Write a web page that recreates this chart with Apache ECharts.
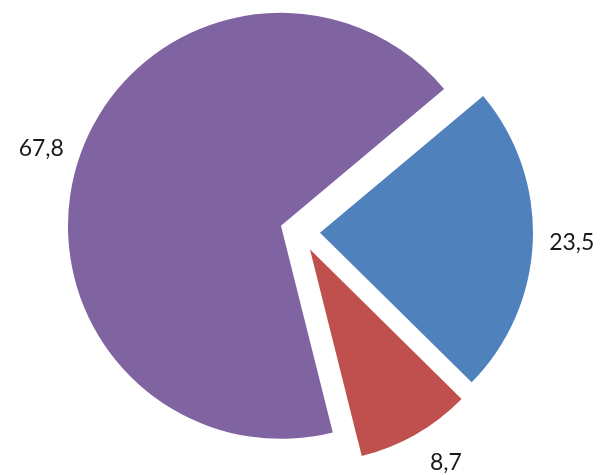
<!DOCTYPE html>
<html>
<head>
<meta charset="utf-8">
<script src="https://cdn.jsdelivr.net/npm/echarts@6/dist/echarts.min.js"></script>
<style>
    html, body { margin: 0; padding: 0; background: #fff; }
    #chart { width: 604px; height: 475px; }
</style>
</head>
<body>
<div id="chart"></div>
<script>
    // 数据
    var names = ['A', 'B', 'C'];
    var values = [23.5, 8.7, 67.8];
    var colors = ['#4F81BD', '#C0504D', '#8064A2'];

    var myChart = echarts.init(document.getElementById('chart'));

    function fmt(v) {
        return String(v).replace('.', ',');
    }

    var pieData = names.map(function (n, i) {
        return { name: n, value: values[i], selected: true, itemStyle: { color: colors[i] } };
    });

    // 透明的外圈只用来放标签
    var labelData = names.map(function (n, i) {
        var item = { name: n, value: values[i], selected: true };
        if (i === 1) {
            // 小扇区的标签稍微往右上挪
            item.label = {
                padding: [0, 0, 0, 22],
                formatter: function (p) {
                    return fmt(p.value) + '\n{sp|}';
                }
            };
        }
        return item;
    });

    var option = {
        animation: false,
        series: [
            {
                type: 'pie',
                center: [300, 232],
                radius: [0, 213],
                startAngle: 40,
                selectedMode: 'multiple',
                selectedOffset: 20,
                avoidLabelOverlap: false,
                silent: true,
                label: { show: false },
                labelLine: { show: false },
                data: pieData
            },
            {
                type: 'pie',
                center: [300, 232],
                radius: [232, 266],
                startAngle: 40,
                selectedMode: 'multiple',
                selectedOffset: 20,
                avoidLabelOverlap: false,
                silent: true,
                itemStyle: { color: 'rgba(0,0,0,0)' },
                label: {
                    show: true,
                    position: 'inside',
                    color: '#1a1a1a',
                    fontFamily: 'Lato',
                    fontSize: 23,
                    formatter: function (p) {
                        return fmt(p.value);
                    },
                    rich: {
                        sp: { fontSize: 1, lineHeight: 12 }
                    }
                },
                labelLine: { show: false },
                data: labelData
            }
        ]
    };

    myChart.setOption(option);
</script>
</body>
</html>
